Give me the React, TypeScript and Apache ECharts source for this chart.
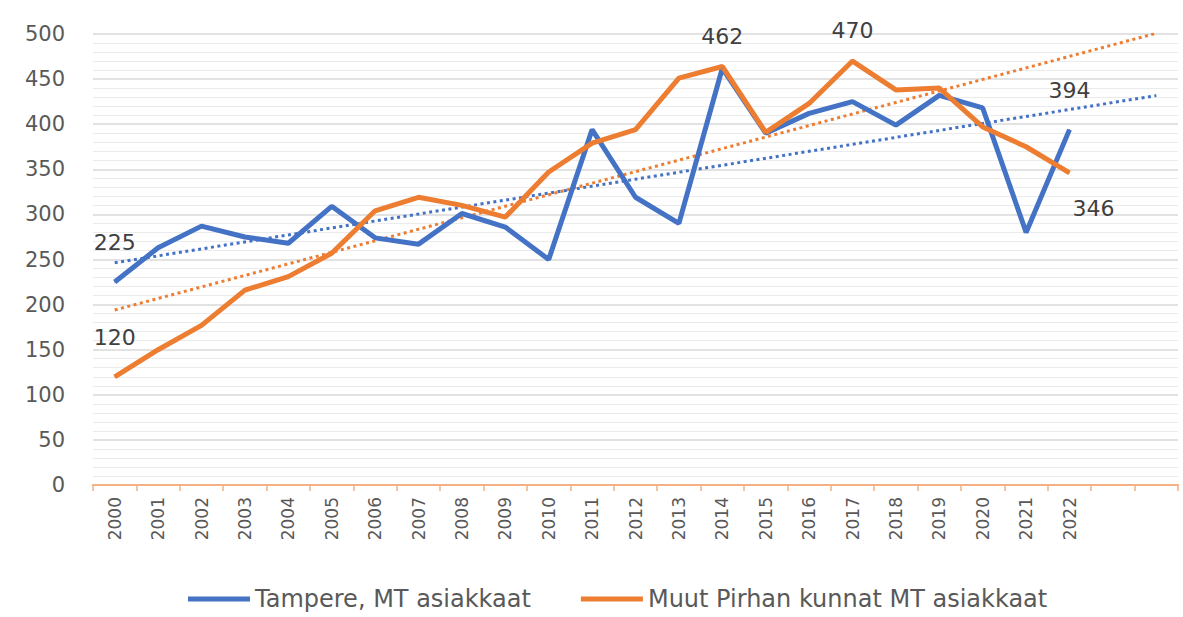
import React, { useEffect, useRef } from "react";
import * as echarts from "echarts";

const years = ["2000","2001","2002","2003","2004","2005","2006","2007","2008","2009","2010","2011","2012","2013","2014","2015","2016","2017","2018","2019","2020","2021","2022"];
const forecastSlots = ["", ""];
const tampere = [225,263,287,275,268,309,274,267,301,286,250,394,319,290,462,390,412,425,399,432,418,280,394];
const muut = [120,150,177,216,231,257,304,319,310,297,347,379,394,451,464,391,423,470,438,440,397,375,346];
const tampereLabelIdx = [0, 14, 22];
const muutLabelIdx = [0, 17, 22];
const seriesNames = ["Tampere, MT asiakkaat", "Muut Pirhan kunnat MT asiakkaat"];

const FONT = "DejaVu Sans";
const BLUE = "#4472C4";
const ORANGE = "#ED7D31";

function linearTrend(vals: number[], total: number): number[] {
  const n = vals.length;
  let sx = 0, sy = 0, sxy = 0, sxx = 0;
  vals.forEach((v, i) => { sx += i; sy += v; sxy += i * v; sxx += i * i; });
  const b = (n * sxy - sx * sy) / (n * sxx - sx * sx);
  const a = (sy - b * sx) / n;
  const out: number[] = [];
  for (let i = 0; i < total; i++) out.push(+(a + b * i).toFixed(2));
  return out;
}

export default function App() {
  const ref = useRef<HTMLDivElement>(null);
  useEffect(() => {
    if (!ref.current) return;
    const chart = echarts.init(ref.current, null, { renderer: "svg" });
    const cats = [...years, ...forecastSlots];
    const labelStyle = { show: true, fontFamily: FONT, fontSize: 22, color: "#404040" };
    const tData = tampere.map((v, i) => {
      if (!tampereLabelIdx.includes(i)) return v;
      const dist = i === 14 ? 20 : 28;
      return { value: v, label: { ...labelStyle, position: "top", distance: dist } };
    });
    const mData = muut.map((v, i) => {
      if (!muutLabelIdx.includes(i)) return v;
      if (i === 22) return { value: v, label: { ...labelStyle, position: "bottom", distance: 24, offset: [24, 0] } };
      const dist = i === 17 ? 19 : 28;
      return { value: v, label: { ...labelStyle, position: "top", distance: dist } };
    });
    chart.setOption({
      animation: false,
      backgroundColor: "#ffffff",
      grid: { left: 93, right: 5, top: 34, bottom: 132, containLabel: false },
      legend: {
        data: seriesNames,
        bottom: 1,
        left: 183,
        icon: "rect",
        itemWidth: 62,
        itemHeight: 5,
        itemGap: 50,
        textStyle: { fontFamily: FONT, fontSize: 24, color: "#595959" },
      },
      xAxis: {
        type: "category",
        data: cats,
        boundaryGap: true,
        axisLine: { show: true, lineStyle: { color: "#F4B183", width: 2 } },
        axisTick: { show: true, length: 6, lineStyle: { color: "#F4B183", width: 1.5 } },
        axisLabel: { rotate: 90, margin: 12, fontFamily: FONT, fontSize: 17, color: "#595959", interval: 0 },
        splitLine: { show: false },
      },
      yAxis: {
        type: "value",
        min: 0,
        max: 500,
        interval: 50,
        axisLine: { show: false },
        axisTick: { show: false },
        axisLabel: { margin: 28, fontFamily: FONT, fontSize: 21, color: "#595959" },
        splitLine: { show: true, lineStyle: { color: "#D9D9D9", width: 1.5 } },
        minorTick: { show: false, splitNumber: 5 },
        minorSplitLine: { show: true, lineStyle: { color: "#EBEBEB", width: 1 } },
      },
      series: [
        {
          name: seriesNames[0],
          type: "line",
          data: tData,
          symbol: "circle",
          symbolSize: 1,
          showSymbol: true,
          showAllSymbol: true,
          lineStyle: { color: BLUE, width: 5 },
          itemStyle: { color: BLUE },
          z: 3,
        },
        {
          name: seriesNames[1],
          type: "line",
          data: mData,
          symbol: "circle",
          symbolSize: 1,
          showSymbol: true,
          showAllSymbol: true,
          lineStyle: { color: ORANGE, width: 5 },
          itemStyle: { color: ORANGE },
          z: 3,
        },
        {
          name: "Tampere trend",
          type: "line",
          data: linearTrend(tampere, cats.length),
          symbol: "none",
          lineStyle: { color: BLUE, width: 3, type: [3, 3.5] },
          z: 2,
          silent: true,
        },
        {
          name: "Muut trend",
          type: "line",
          data: linearTrend(muut, cats.length),
          symbol: "none",
          lineStyle: { color: ORANGE, width: 3, type: [3, 3.5] },
          z: 2,
          silent: true,
        },
      ],
    });
    return () => chart.dispose();
  }, []);
  return (
    <div
      ref={ref}
      style={{ position: "fixed", left: 0, top: 0, width: 1183, height: 617, background: "#fff" }}
    />
  );
}
